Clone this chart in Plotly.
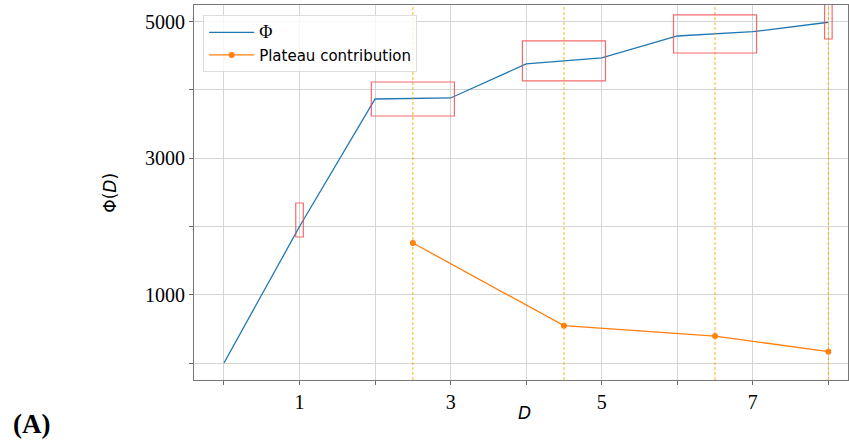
import plotly.graph_objects as go

# Data
D = [0, 1, 2, 3, 4, 5, 6, 7, 8]
phi = [0, 2000, 3868, 3883, 4381, 4469, 4791, 4854, 4992]

plateau_D = [2.5, 4.5, 6.5, 8.0]
plateau_contrib = [1758, 547, 395, 166]

# highlighted plateau boxes
box_x0 = [0.95, 1.95, 3.95, 5.95, 7.95]
box_x1 = [1.05, 3.05, 5.05, 7.05, 8.05]
box_y0 = [1846, 3619, 4132, 4542, 4747]
box_y1 = [2344, 4117, 4718, 5099, 5400]

x_tickvals = [0, 1, 2, 3, 4, 5, 6, 7, 8]
x_ticktext = ["", "1", "", "3", "", "5", "", "7", ""]
y_tickvals = [0, 1000, 2000, 3000, 4000, 5000]
y_ticktext = ["", "1000", "", "3000", "", "5000"]

fig = go.Figure()
fig.add_trace(go.Scatter(x=D, y=phi, mode="lines",
                         name="<span style='font-family:Liberation Serif;font-size:18px'>Φ</span>",
                         line=dict(color="#1f77b4", width=1.3)))
fig.add_trace(go.Scatter(x=plateau_D, y=plateau_contrib, mode="lines+markers",
                         name="Plateau contribution",
                         line=dict(color="#ff7f0e", width=1.3),
                         marker=dict(color="#ff7f0e", size=6)))

shapes = []
for xv in plateau_D:
    shapes.append(dict(type="line", xref="x", yref="paper", x0=xv, x1=xv, y0=0, y1=1,
                       line=dict(color="rgba(255,165,0,0.85)", width=1, dash="3px,2px"),
                       layer="above"))
for a, b, c, d in zip(box_x0, box_x1, box_y0, box_y1):
    shapes.append(dict(type="rect", xref="x", yref="y", x0=a, x1=b, y0=c, y1=d,
                       line=dict(color="rgba(240,70,70,0.8)", width=1.2),
                       fillcolor="rgba(0,0,0,0)", layer="above"))

fig.update_layout(
    width=849, height=444,
    margin=dict(l=194, r=1, t=5, b=64),
    paper_bgcolor="white", plot_bgcolor="white",
    showlegend=True,
    legend=dict(x=0.014, y=0.973, xanchor="left", yanchor="top",
                bgcolor="rgba(255,255,255,0.8)", bordercolor="#dddddd", borderwidth=1,
                font=dict(family="DejaVu Sans", size=15, color="black"),
                itemwidth=45, tracegroupgap=6),
    shapes=shapes,
    annotations=[
        dict(text="Φ(<i>D</i>)", xref="paper", yref="paper", x=-0.148, y=0.5,
             showarrow=False, textangle=-90,
             font=dict(family="DejaVu Sans", size=17, color="black")),
        dict(text="<i>D</i>", xref="paper", yref="paper", x=0.506, y=-0.088,
             showarrow=False, yanchor="middle",
             font=dict(family="DejaVu Sans", size=17, color="black")),
        dict(text="<b>(A)</b>", xref="paper", yref="paper", x=-0.249, y=-0.118,
             showarrow=False, xanchor="center", yanchor="middle",
             font=dict(family="Liberation Serif", size=27, color="black")),
    ],
)
fig.update_xaxes(range=[-0.397, 8.26], tickvals=x_tickvals, ticktext=x_ticktext,
                 showgrid=True, gridcolor="#d5d5d5", gridwidth=1,
                 ticks="outside", ticklen=4, tickcolor="#666666",
                 showline=True, linecolor="#777777", linewidth=1.2, mirror=True,
                 zeroline=False,
                 tickfont=dict(family="Liberation Serif", size=20, color="black"))
fig.update_yaxes(range=[-249, 5245], tickvals=y_tickvals, ticktext=y_ticktext,
                 showgrid=True, gridcolor="#d5d5d5", gridwidth=1,
                 ticks="outside", ticklen=4, tickcolor="#666666",
                 showline=True, linecolor="#777777", linewidth=1.2, mirror=True,
                 zeroline=False,
                 tickfont=dict(family="Liberation Serif", size=20, color="black"))

fig.write_html("out.html", config={"displayModeBar": False},
               post_script="document.body.style.margin='0';")
